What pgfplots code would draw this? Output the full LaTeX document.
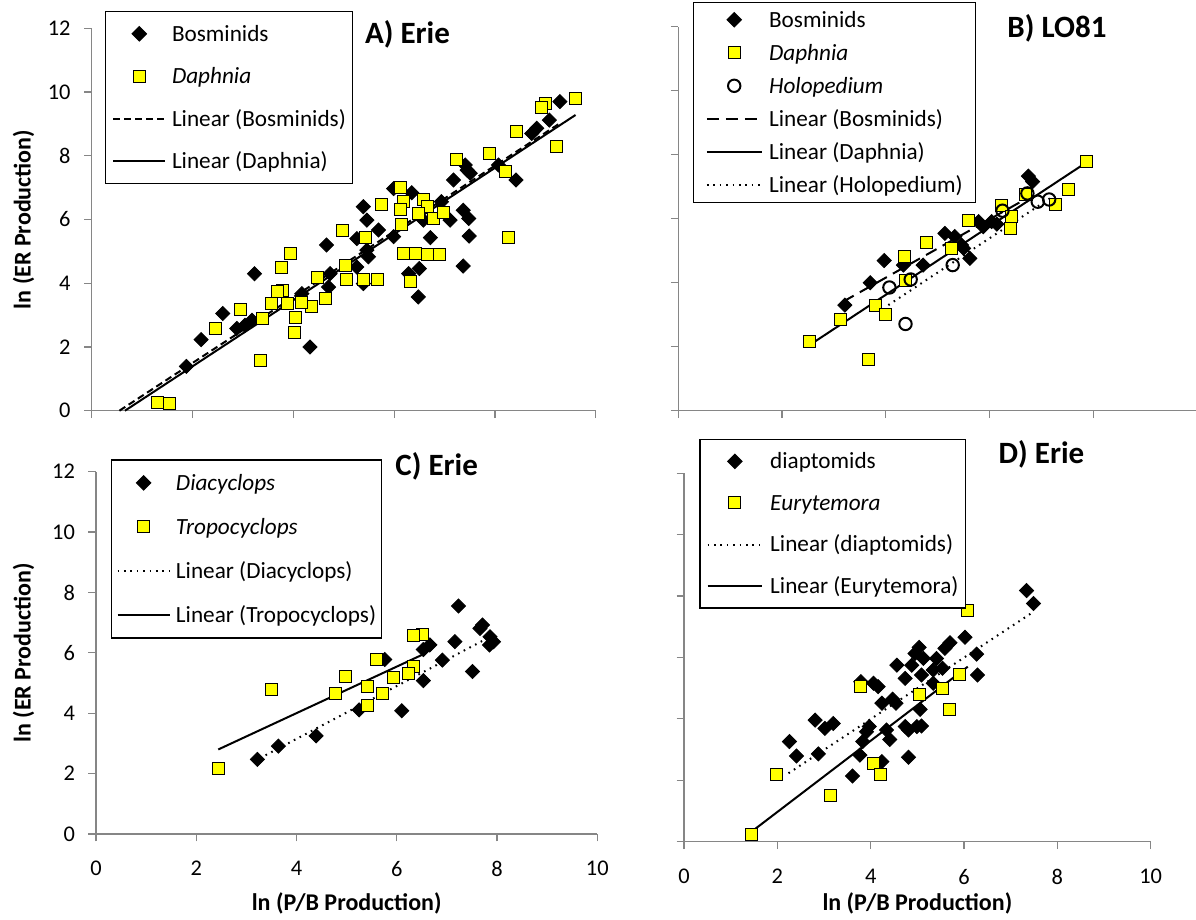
\documentclass[border=0pt]{standalone}
\usepackage{fontspec}
\setmainfont{Carlito}
\usepackage{pgfplots}
\pgfplotsset{compat=1.18}
\definecolor{axgray}{RGB}{134,134,134}
\definecolor{myyellow}{RGB}{255,255,0}
\pgfplotsset{
 panel/.style={
   scale only axis, xmin=0,xmax=10,ymin=0,ymax=12,
   xtick={0,2,4,6,8,10}, ytick={0,2,4,6,8,10,12},
   axis x line*=bottom, axis y line*=left,
   axis line style={draw=axgray,line width=0.6pt},
   every tick/.style={draw=axgray,line width=0.6pt},
   tick align=outside, major tick length=3.75pt,
   ticklabel style={font=\fontsize{11.2}{13}\selectfont, inner sep=0pt},
   /pgf/number format/assume math mode=true,
   xticklabel style={anchor=north, yshift=-9.75pt},
   yticklabel style={anchor=east, xshift=-6.6pt},
   clip=false,
   legend cell align=left,
   title style={font=\bfseries\fontsize{15.5}{18}\selectfont, anchor=center},
   label style={font=\bfseries\fontsize{12}{14}\selectfont},
 },
 bos/.style={only marks, mark=square*, mark size=2.5pt, mark options={rotate=45, fill=black, draw=black}},
 daph/.style={only marks, mark=square*, mark size=3pt, mark options={fill=myyellow, draw=black, line width=0.5pt}},
 holo/.style={only marks, mark=o, mark size=3.1pt, mark options={draw=black, line width=1pt}},
 trend/.style={no marks, black, line width=1pt},
 limgA/.style={legend image code/.code={\draw[mark repeat=2,mark phase=2,##1] plot coordinates {(0pt,0pt) (13pt,0pt) (26pt,0pt)};}},
 limgB/.style={legend image code/.code={\draw[mark repeat=2,mark phase=2,##1] plot coordinates {(0pt,0pt) (13.65pt,0pt) (27.3pt,0pt)};}},
}
\begin{document}
\begin{tikzpicture}
\useasboundingbox (0pt,0pt) rectangle (598pt,460pt);
% ---------------- A ----------------
\begin{axis}[panel, at={(45.85pt,254.65pt)}, anchor=south west, width=252pt, height=191.2pt,
  xticklabels={},
  ylabel={ln (ER Production)}, ylabel style={at={(axis description cs:-0.1353,0.5)}, anchor=center},
  title={A) Erie}, title style={at={(axis description cs:0.6266,0.952)}},
  legend style={at={(0.0264,1.0452)}, anchor=north west, draw=black, line width=0.6pt,
    inner xsep=3.35pt, inner ysep=0.5pt, column sep=2.85pt, row sep=0pt,
    font=\fontsize{11.6}{13}\selectfont,
    nodes={inner sep=0pt, text height=14.3pt, text depth=6.9pt, anchor=west}},
  limgA]
\addplot[bos] coordinates {(9.29,9.70)(9.08,9.12)(8.83,8.86)(8.73,8.70)(8.07,7.71)(8.42,7.24)(7.41,7.71)(7.51,7.45)(7.18,7.24)(7.45,7.55)(7.37,6.29)(7.48,6.03)(7.49,5.48)(7.37,4.54)(7.11,5.98)(6.94,6.56)(6.35,6.84)(5.99,6.97)(6.58,5.98)(6.72,5.43)(6.50,4.46)(6.48,3.57)(6.29,4.30)(5.99,5.46)(5.39,6.40)(5.46,5.98)(5.69,5.67)(5.26,5.40)(5.46,5.04)(5.49,4.83)(5.26,4.51)(5.39,3.99)(4.66,5.20)(4.73,4.30)(4.70,3.88)(4.17,3.67)(4.33,2.00)(3.23,4.30)(3.18,2.84)(2.88,2.58)(3.04,2.68)(2.60,3.05)(2.17,2.23)(1.88,1.39)};
\addlegendentry{Bosminids}
\addplot[daph] coordinates {(9.60,9.79)(9.01,9.64)(8.93,9.51)(8.42,8.77)(7.89,8.07)(7.23,7.88)(9.23,8.28)(8.21,7.50)(8.27,5.42)(6.13,7.00)(6.18,6.55)(5.75,6.47)(6.12,6.31)(6.58,6.63)(6.66,6.42)(6.78,6.03)(6.98,6.21)(6.48,6.19)(6.15,5.85)(4.97,5.64)(5.44,5.43)(6.18,4.93)(6.42,4.93)(6.66,4.90)(6.91,4.90)(5.03,4.57)(5.06,4.12)(5.39,4.12)(5.67,4.12)(6.33,4.04)(4.48,4.17)(4.63,3.52)(4.37,3.28)(4.17,3.41)(3.95,4.93)(3.76,4.49)(3.78,3.78)(3.68,3.73)(3.56,3.36)(3.88,3.36)(4.05,2.94)(4.02,2.44)(3.39,2.89)(2.96,3.17)(2.46,2.58)(3.35,1.56)(1.31,0.27)(1.55,0.22)};
\addlegendentry{\textit{Daphnia}}
\addplot[trend, dash pattern=on 3.5pt off 2pt] coordinates {(0.55,0)(9.29,9.02)};
\addlegendentry{Linear (Bosminids)}
\addplot[trend] coordinates {(0.66,0)(9.60,9.28)};
\addlegendentry{Linear (Daphnia)}
\end{axis}
% ---------------- B ----------------
\begin{axis}[panel, at={(339.15pt,254.65pt)}, anchor=south west, width=259.35pt, height=192pt,
  xticklabels={}, yticklabels={},
  title={B) LO81}, title style={at={(axis description cs:0.730,0.965)}},
  legend style={at={(0.0278,1.0651)}, anchor=north west, draw=black, line width=0.6pt,
    inner xsep=6.3pt, inner ysep=0.5pt, column sep=3.3pt, row sep=0pt,
    font=\fontsize{11.6}{13}\selectfont,
    nodes={inner sep=0pt, text height=12pt, text depth=4.5pt, anchor=west}},
  limgB]
\addplot[bos] coordinates {(6.75,7.33)(6.83,7.16)(6.14,5.83)(6.04,5.91)(5.88,5.75)(5.79,5.91)(5.62,4.76)(5.46,5.18)(5.33,5.44)(5.14,5.54)(4.72,4.55)(4.34,4.55)(3.97,4.69)(3.70,4.00)(3.21,3.30)(5.50,5.07)};
\addlegendentry{Bosminids}
\addplot[daph] coordinates {(7.87,7.78)(7.52,6.92)(7.28,6.43)(6.70,6.77)(6.23,6.41)(6.43,6.06)(6.41,5.70)(5.60,5.94)(5.26,5.07)(4.79,5.26)(4.36,4.83)(4.38,4.08)(3.81,3.30)(4.00,3.02)(3.12,2.85)(2.53,2.16)(3.66,1.60)};
\addlegendentry{\textit{Daphnia}}
\addplot[holo] coordinates {(7.15,6.60)(6.93,6.53)(6.25,6.25)(6.73,6.79)(5.29,4.55)(4.48,4.10)(4.07,3.85)(4.38,2.71)};
\addlegendentry{\textit{Holopedium}}
\addplot[trend, dash pattern=on 6pt off 3.5pt] coordinates {(3.18,3.41)(6.78,6.69)};
\addlegendentry{Linear (Bosminids)}
\addplot[trend] coordinates {(2.53,2.05)(7.87,7.76)};
\addlegendentry{Linear (Daphnia)}
\addplot[trend, dash pattern=on 0.8pt off 2.4pt] coordinates {(4.05,3.30)(7.17,6.64)};
\addlegendentry{Linear (Holopedium)}
\end{axis}
% ---------------- C ----------------
\begin{axis}[panel, at={(48pt,43pt)}, anchor=south west, width=250.65pt, height=181.15pt,
  ylabel={ln (ER Production)}, ylabel style={at={(axis description cs:-0.1446,0.5)}, anchor=center},
  xlabel={ln (P/B Production)}, xlabel style={at={(axis description cs:0.5,-0.1905)}, anchor=center},
  title={C) Erie}, title style={at={(axis description cs:0.6796,0.9818)}},
  legend style={at={(0.0293,1.0342)}, anchor=north west, draw=black, line width=0.6pt,
    inner xsep=2.65pt, inner ysep=0.5pt, column sep=2.7pt, row sep=0pt,
    font=\fontsize{11.6}{13}\selectfont,
    nodes={inner sep=0pt, text height=14.7pt, text depth=7.3pt, anchor=west}},
  limgA]
\addplot[bos] coordinates {(7.23,7.55)(7.71,6.92)(7.66,6.81)(7.86,6.53)(7.93,6.37)(7.85,6.26)(7.16,6.37)(6.66,6.26)(6.53,6.11)(6.91,5.76)(7.51,5.38)(6.53,5.08)(6.10,4.08)(5.76,5.78)(5.25,4.11)(4.39,3.25)(3.64,2.91)(3.22,2.47)};
\addlegendentry{\textit{Diacyclops}}
\addplot[daph] coordinates {(6.52,6.62)(6.33,6.56)(5.59,5.78)(6.34,5.56)(6.23,5.32)(5.93,5.19)(4.97,5.21)(5.41,4.90)(4.77,4.66)(5.72,4.66)(5.41,4.24)(3.51,4.77)(2.44,2.17)};
\addlegendentry{\textit{Tropocyclops}}
\addplot[trend, dash pattern=on 0.8pt off 2.4pt] coordinates {(3.27,2.51)(7.93,6.59)};
\addlegendentry{Linear (Diacyclops)}
\addplot[trend] coordinates {(2.44,2.80)(6.50,5.93)};
\addlegendentry{Linear (Tropocyclops)}
\end{axis}
% ---------------- D ----------------
\begin{axis}[panel, at={(342pt,39.15pt)}, anchor=south west, width=233.35pt, height=184.2pt,
  yticklabels={},
  xlabel={ln (P/B Production)}, xlabel style={at={(axis description cs:0.5,-0.1664)}, anchor=center},
  title={D) Erie}, title style={at={(axis description cs:0.766,1.018)}},
  legend style={at={(0.0328,1.0931)}, anchor=north west, draw=black, line width=0.6pt,
    inner xsep=3.35pt, inner ysep=0.5pt, column sep=3.5pt, row sep=0pt,
    font=\fontsize{11.6}{13}\selectfont,
    nodes={inner sep=0pt, text height=14.1pt, text depth=6.7pt, anchor=west}},
  limgB]
\addplot[bos] coordinates {(7.34,8.18)(7.49,7.76)(6.02,6.66)(6.27,6.11)(6.29,5.43)(5.70,6.48)(5.59,6.30)(5.04,6.33)(5.13,5.97)(4.95,6.13)(4.88,5.75)(5.41,5.97)(5.54,5.65)(5.34,5.59)(5.09,5.43)(4.56,5.75)(4.74,5.32)(5.34,5.16)(3.79,5.21)(4.06,5.16)(4.16,5.05)(4.24,4.51)(4.47,4.64)(4.54,4.51)(5.06,4.31)(4.74,3.75)(4.99,3.75)(5.09,3.77)(4.81,3.64)(4.34,3.64)(4.41,3.33)(3.97,3.75)(3.91,3.58)(3.83,3.26)(3.77,2.82)(4.81,2.75)(4.24,2.61)(3.61,2.14)(2.81,3.96)(3.02,3.69)(3.20,3.85)(2.88,2.86)(2.26,3.26)(2.41,2.79)};
\addlegendentry{diaptomids}
\addplot[daph] coordinates {(6.08,7.52)(5.91,5.46)(5.54,4.99)(5.04,4.78)(5.69,4.31)(3.79,5.05)(4.07,2.55)(4.21,2.20)(1.99,2.20)(3.13,1.52)(1.45,0.25)};
\addlegendentry{\textit{Eurytemora}}
\addplot[trend, dash pattern=on 0.8pt off 2.4pt] coordinates {(2.24,2.23)(7.49,7.49)};
\addlegendentry{Linear (diaptomids)}
\addplot[trend] coordinates {(1.45,0.33)(6.08,5.70)};
\addlegendentry{Linear (Eurytemora)}
\end{axis}
\end{tikzpicture}
\end{document}
